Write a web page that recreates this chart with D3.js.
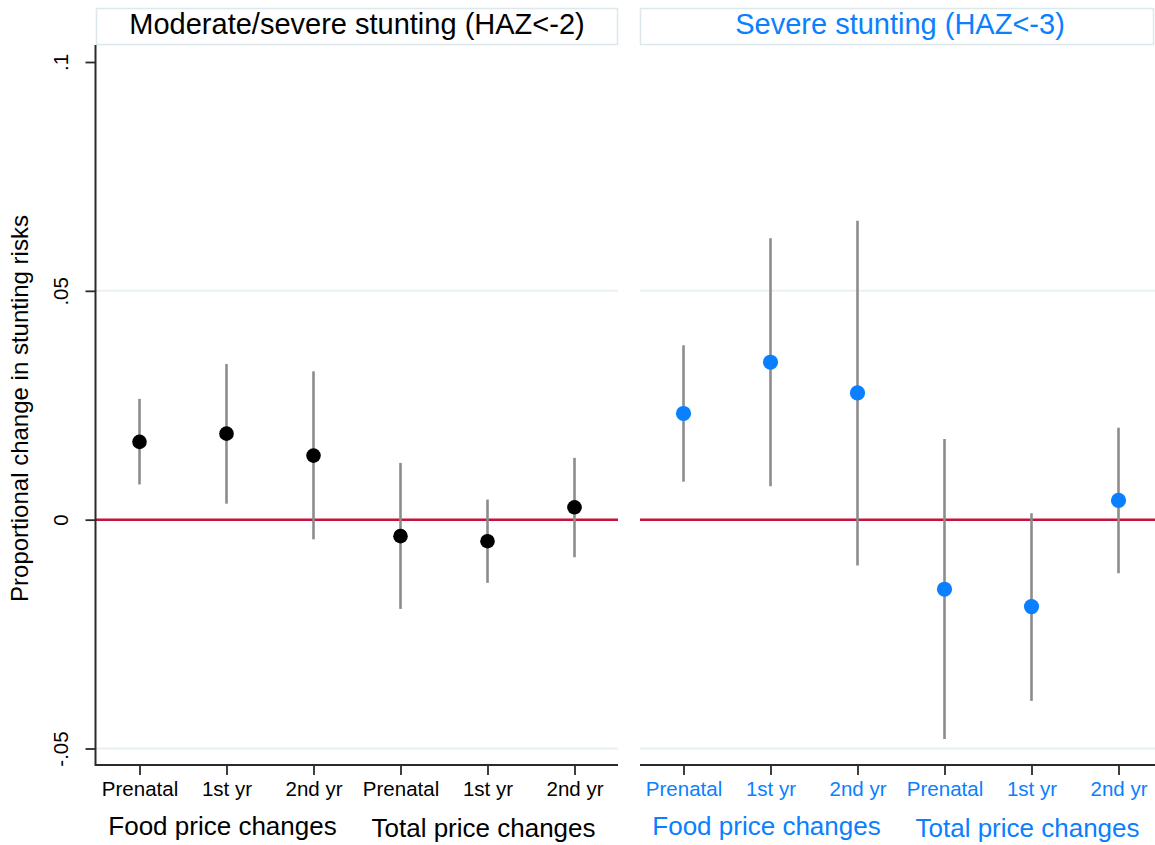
<!DOCTYPE html>
<html>
<head>
<meta charset="utf-8">
<script src="https://cdn.jsdelivr.net/npm/d3@7"></script>
<style>
  html, body { margin: 0; padding: 0; background: #fff; }
  svg { display: block; font-family: Arial, "Liberation Sans", sans-serif; }
</style>
</head>
<body>
<svg id="chart" width="1155" height="845"></svg>
<script>
// ---- Data ----
const categories = ["Prenatal", "1st yr", "2nd yr", "Prenatal", "1st yr", "2nd yr"];
const groups = ["Food price changes", "Total price changes"];
const panelTitles = ["Moderate/severe stunting (HAZ<-2)", "Severe stunting (HAZ<-3)"];
const yTickValues = [-0.05, 0, 0.05, 0.1];
const yTickLabels = ["-.05", "0", ".05", ".1"];
const yTitle = "Proportional change in stunting risks";

// Moderate/severe stunting
const modEstimate = [0.0170, 0.0188, 0.0140, -0.0036, -0.0047, 0.0027];
const modLower    = [0.0077, 0.0035, -0.0043, -0.0195, -0.0138, -0.0082];
const modUpper    = [0.0264, 0.0340, 0.0324, 0.0124, 0.0044, 0.0135];

// Severe stunting
const sevEstimate = [0.0232, 0.0344, 0.0277, -0.0152, -0.0190, 0.0042];
const sevLower    = [0.0083, 0.0073, -0.0100, -0.0479, -0.0396, -0.0117];
const sevUpper    = [0.0381, 0.0615, 0.0653, 0.0176, 0.0014, 0.0201];

// ---- Layout ----
const svg = d3.select("#chart");
const plotTop = 45, plotBottom = 765;
const y = d3.scaleLinear().domain([-0.05, 0.1]).range([748.5, 62]);

const panels = [
  { x0: 96, x1: 618, est: modEstimate, lo: modLower, hi: modUpper,
    color: "#000000", textColor: "#000000", title: panelTitles[0], yAxis: true, boxR: 617, titleX: 357 },
  { x0: 640, x1: 1162, est: sevEstimate, lo: sevLower, hi: sevUpper,
    color: "#0a80ff", textColor: "#0a80ff", title: panelTitles[1], yAxis: false, boxR: 1153, titleX: 900 }
];

const gridColor = "#e8f0f2";
const axisColor = "#2b2b2b";
const ciColor = "#8c8c8c";
const zeroColor = "#c8103c";

panels.forEach((p, pi) => {
  const g = svg.append("g");
  const idx = d3.range(categories.length);
  const x = d3.scalePoint().domain(idx).range([p.x0, p.x1]).padding(0.5);

  // title box
  g.append("rect")
    .attr("x", p.x0 + 0.5).attr("y", 8.5)
    .attr("width", p.boxR - p.x0).attr("height", 36)
    .attr("fill", "#fff").attr("stroke", "#dce8ec").attr("stroke-width", 1.5);
  g.append("text")
    .attr("x", p.titleX).attr("y", 34)
    .attr("text-anchor", "middle")
    .attr("font-size", 29)
    .attr("fill", p.textColor)
    .text(p.title);

  // gridlines (0.05 and -0.05)
  [0.05, -0.05].forEach(v => {
    g.append("line")
      .attr("x1", p.x0).attr("x2", p.x1)
      .attr("y1", y(v)).attr("y2", y(v))
      .attr("stroke", gridColor).attr("stroke-width", 2);
  });

  // zero line
  g.append("line")
    .attr("x1", p.x0).attr("x2", p.x1)
    .attr("y1", y(0)).attr("y2", y(0))
    .attr("stroke", zeroColor).attr("stroke-width", 2.5);

  // CI lines
  g.selectAll(".ci").data(idx).enter().append("line")
    .attr("x1", i => x(i)).attr("x2", i => x(i))
    .attr("y1", i => y(p.lo[i])).attr("y2", i => y(p.hi[i]))
    .attr("stroke", ciColor).attr("stroke-width", 2.6);

  // points
  g.selectAll(".pt").data(idx).enter().append("circle")
    .attr("cx", i => x(i)).attr("cy", i => y(p.est[i]))
    .attr("r", pi === 0 ? 7.3 : 7.6)
    .attr("fill", p.color);

  // x axis
  const xAxis = d3.axisBottom(x).tickSize(10).tickPadding(6).tickFormat(i => categories[i]);
  const xa = g.append("g").attr("transform", `translate(0,${plotBottom})`).call(xAxis);
  xa.select(".domain").remove();
  xa.append("line").attr("x1", p.x0).attr("x2", p.x1).attr("y1", 0).attr("y2", 0)
    .attr("stroke", axisColor).attr("stroke-width", 2);
  xa.selectAll(".tick line").attr("stroke", axisColor).attr("stroke-width", 1.8);
  xa.selectAll(".tick text").attr("font-size", 20.5).attr("fill", p.textColor)
    .attr("font-family", "Arial, 'Liberation Sans', sans-serif");

  // group labels
  groups.forEach((gr, gi) => {
    const cx = (x(gi * 3) + x(gi * 3 + 2)) / 2 - 4;
    g.append("text")
      .attr("x", cx).attr("y", 835 + gi * 2)
      .attr("text-anchor", "middle")
      .attr("font-size", 26)
      .attr("fill", p.textColor)
      .text(gr);
  });

  // y axis
  if (p.yAxis) {
    const yAxis = d3.axisLeft(y).tickValues(yTickValues).tickSize(10)
      .tickFormat((d, i) => yTickLabels[i]);
    const ya = g.append("g").attr("transform", `translate(${p.x0 - 0.5},0)`).call(yAxis);
    ya.select(".domain").remove();
    ya.append("line").attr("x1", 0).attr("x2", 0).attr("y1", plotTop).attr("y2", plotBottom + 1)
      .attr("stroke", axisColor).attr("stroke-width", 2);
    ya.selectAll(".tick line").attr("stroke", axisColor).attr("stroke-width", 1.8);
    ya.selectAll(".tick text")
      .attr("font-size", 20.5).attr("fill", "#000")
      .attr("font-family", "Arial, 'Liberation Sans', sans-serif")
      .attr("text-anchor", "middle")
      .attr("x", 0).attr("y", 0).attr("dy", "0.35em")
      .attr("transform", "translate(-35,0) rotate(-90)");
  }
});

// y title
svg.append("text")
  .attr("transform", `translate(28,${(212 + 605) / 2}) rotate(-90)`)
  .attr("text-anchor", "middle")
  .attr("font-size", 24)
  .attr("fill", "#000")
  .text(yTitle);
</script>
</body>
</html>
